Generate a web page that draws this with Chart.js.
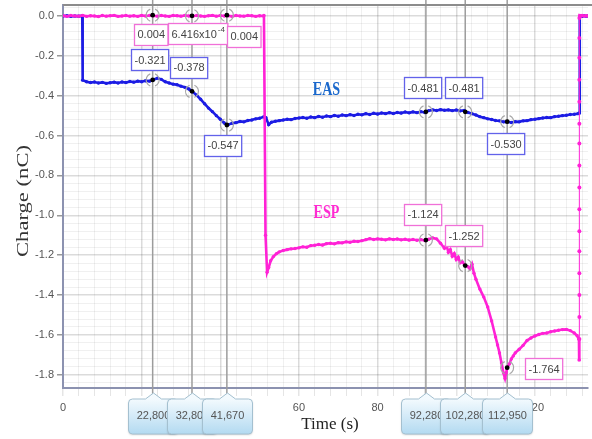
<!DOCTYPE html>
<html>
<head>
<meta charset="utf-8">
<title>Charge vs time</title>
<script src="https://cdn.jsdelivr.net/npm/chart.js@4.4.1/dist/chart.umd.min.js"></script>
<style>
  html, body { margin: 0; padding: 0; background: #fff; }
  canvas { display: block; }
</style>
</head>
<body>
<canvas id="chargeChart" width="592" height="439"></canvas>
<script>

// EAS trace (time in s, charge in nC)
var easTime = [
	0, 1, 2, 3, 4, 4.9, 5, 6, 7, 8,
	9, 10, 11, 12, 13, 14, 15, 16, 17, 18,
	19, 20, 21, 22, 22.8, 24, 25, 26, 27, 28,
	29, 30, 31, 32, 32.8, 34, 35, 36, 37, 38,
	39, 40, 41, 41.67, 42, 43, 44, 45, 46, 47,
	48, 49, 50, 51, 51.6, 52.3, 53, 54, 55, 56,
	57, 58, 59, 60, 61, 62, 63, 64, 65, 66,
	67, 68, 69, 70, 71, 72, 73, 74, 75, 76,
	77, 78, 79, 80, 81, 82, 83, 84, 85, 86,
	87, 88, 89, 90, 91, 92, 92.28, 93, 94, 95,
	96, 97, 98, 99, 100, 101, 102, 102.28, 103, 104,
	105, 106, 107, 108, 109, 110, 111, 112, 112.95, 114,
	115, 116, 117, 118, 119, 120, 121, 122, 123, 124,
	125, 126, 127, 128, 129, 130, 131, 131.3, 131.4, 131.7,
	132, 132.5, 133, 133.4
];
var easCharge = [
	0.000, 0.001, -0.002, 0.000, -0.001, 0.000, -0.322, -0.330, -0.334, -0.331,
	-0.336, -0.333, -0.338, -0.335, -0.332, -0.336, -0.331, -0.334, -0.329, -0.332,
	-0.327, -0.330, -0.325, -0.327, -0.321, -0.312, -0.318, -0.330, -0.336, -0.342,
	-0.345, -0.352, -0.358, -0.366, -0.378, -0.398, -0.418, -0.440, -0.462, -0.480,
	-0.500, -0.518, -0.537, -0.547, -0.545, -0.538, -0.535, -0.529, -0.531, -0.524,
	-0.522, -0.516, -0.513, -0.506, -0.510, -0.545, -0.533, -0.528, -0.525, -0.522,
	-0.518, -0.520, -0.514, -0.512, -0.509, -0.513, -0.507, -0.510, -0.504, -0.508,
	-0.502, -0.505, -0.499, -0.503, -0.497, -0.500, -0.495, -0.499, -0.493, -0.496,
	-0.490, -0.494, -0.488, -0.492, -0.487, -0.490, -0.485, -0.489, -0.484, -0.487,
	-0.482, -0.486, -0.481, -0.485, -0.480, -0.484, -0.481, -0.475, -0.471, -0.474,
	-0.470, -0.473, -0.471, -0.475, -0.472, -0.476, -0.474, -0.481, -0.484, -0.490,
	-0.497, -0.505, -0.510, -0.516, -0.519, -0.524, -0.526, -0.531, -0.530, -0.534,
	-0.530, -0.531, -0.526, -0.525, -0.520, -0.518, -0.515, -0.512, -0.509, -0.510,
	-0.505, -0.503, -0.500, -0.498, -0.494, -0.493, -0.490, -0.487, -0.004, 0.001,
	-0.002, 0.001, -0.001, 0.000
];

// ESP trace (time in s, charge in nC)
var espTime = [
	0, 1, 2, 3, 4, 5, 6, 7, 8, 9,
	10, 11, 12, 13, 14, 15, 16, 17, 18, 19,
	20, 21, 22, 22.8, 23, 24, 25, 26, 27, 28,
	29, 30, 31, 32, 32.8, 33, 34, 35, 36, 37,
	38, 39, 40, 41, 41.67, 42, 43, 44, 45, 46,
	47, 48, 49, 50, 51, 51.1, 51.5, 51.9, 52.3, 52.8,
	53.5, 54.3, 55, 56, 57, 58, 59, 60, 61, 62,
	63, 64, 65, 66, 67, 68, 69, 70, 71, 72,
	73, 74, 75, 76, 77, 78, 79, 80, 81, 82,
	83, 84, 85, 86, 87, 88, 89, 90, 91, 92,
	92.28, 93, 94, 95, 96, 97, 97.5, 98, 98.5, 99,
	99.5, 100, 100.5, 101, 101.5, 102.28, 103, 103.5, 104, 104.5,
	105, 106, 107, 108, 109, 110, 110.5, 111, 111.5, 112,
	112.4, 112.7, 112.95, 113.5, 114, 114.5, 115, 116, 117, 118,
	119, 120, 121, 122, 123, 124, 125, 126, 127, 128,
	129, 130, 130.7, 131.2, 131.25, 131.3, 131.3, 131.3, 131.3, 131.3,
	131.3, 131.3, 131.3, 131.3, 131.3, 131.3, 131.3, 131.3, 131.3, 131.3,
	131.3, 131.4, 131.7, 132, 132.5, 133, 133.4
];
var espCharge = [
	0.001, -0.002, 0.002, 0.000, -0.001, 0.003, -0.002, 0.001, 0.000, -0.003,
	0.002, -0.001, 0.001, 0.003, -0.002, 0.000, 0.002, -0.001, 0.001, -0.002,
	0.003, 0.000, 0.002, 0.004, 0.001, -0.001, 0.002, 0.000, -0.002, 0.002,
	0.001, -0.001, 0.003, 0.000, 0.001, -0.001, 0.002, 0.000, -0.002, 0.001,
	0.003, -0.001, 0.002, 0.000, 0.004, 0.001, -0.002, 0.002, 0.000, -0.001,
	0.002, 0.001, -0.002, 0.001, 0.000, 0.002, -1.100, -1.285, -1.262, -1.228,
	-1.207, -1.192, -1.183, -1.176, -1.172, -1.168, -1.166, -1.163, -1.158, -1.160,
	-1.152, -1.150, -1.146, -1.149, -1.142, -1.140, -1.143, -1.137, -1.138, -1.133,
	-1.135, -1.130, -1.131, -1.127, -1.122, -1.117, -1.121, -1.118, -1.120, -1.123,
	-1.118, -1.121, -1.119, -1.123, -1.120, -1.124, -1.121, -1.125, -1.122, -1.126,
	-1.124, -1.120, -1.113, -1.118, -1.140, -1.165, -1.150, -1.185, -1.172, -1.205,
	-1.192, -1.222, -1.210, -1.238, -1.232, -1.252, -1.258, -1.268, -1.245, -1.290,
	-1.320, -1.370, -1.410, -1.460, -1.530, -1.610, -1.650, -1.690, -1.740, -1.790,
	-1.818, -1.790, -1.764, -1.745, -1.720, -1.705, -1.690, -1.672, -1.652, -1.628,
	-1.615, -1.605, -1.598, -1.592, -1.590, -1.584, -1.580, -1.576, -1.573, -1.572,
	-1.578, -1.590, -1.603, -1.622, -1.725, -1.620, -1.510, -1.400, -1.290, -1.180,
	-1.080, -0.970, -0.860, -0.750, -0.640, -0.540, -0.430, -0.320, -0.210, -0.110,
	-0.010, 0.002, -0.001, 0.002, 0.000, 0.001, 0.000
];

// cursor readouts
var cursorTime = [22.8, 32.8, 41.67, 92.28, 102.28, 112.95];
var cursorEas = [-0.321, -0.378, -0.547, -0.481, -0.481, -0.530];
var cursorEsp = [0.004, 6.416e-4, 0.004, -1.124, -1.252, -1.764];

var easColor = '#1c1ce4';
var espColor = '#ff22d6';

// where each readout box sits, in px from its point
var easBoxShift = [[-3, -20], [-3, -24], [-4, 20], [-3, -24], [-2, -24], [-2, 22]];
var espBoxShift = [[-2, 19], [6, 18], [17, 21], [-3, -26], [-2, -30], [36, 1]];

var seriesNames = [
	{ text: 'EAS', t: 67, v: -0.37, color: '#1a68cc' },
	{ text: 'ESP', t: 67, v: -0.99, color: '#ff2bd2' }
];

function toPoints(xs, ys){
	return xs.map(function(t, i){ return { x: t, y: ys[i] }; });
}

function isStep(v, step){
	var k = v / step;
	return Math.abs(k - Math.round(k)) < 1e-6;
}

var labelFont = '11px "Liberation Sans", Arial, sans-serif';

function readoutText(v){
	if (v !== 0 && Math.abs(v) < 0.001) {
		var e = Math.floor(Math.log10(Math.abs(v)));
		return { main: (v / Math.pow(10, e)).toFixed(3) + 'x10', sup: String(e) };
	}
	return { main: v.toFixed(3), sup: '' };
}

function drawReadout(ctx, cx, cy, v, border){
	var txt = readoutText(v);
	ctx.font = labelFont;
	var w = ctx.measureText(txt.main).width;
	var sw = 0;
	if (txt.sup) {
		ctx.font = '8px "Liberation Sans", Arial, sans-serif';
		sw = ctx.measureText(txt.sup).width + 1;
	}
	var bw = w + sw + 6, bh = 21;
	var x0 = Math.round(cx - bw / 2) + 0.5, y0 = Math.round(cy - bh / 2) + 0.5;
	ctx.fillStyle = '#fff';
	ctx.fillRect(x0, y0, bw, bh);
	ctx.strokeStyle = border;
	ctx.lineWidth = 1.3;
	ctx.strokeRect(x0, y0, bw, bh);
	ctx.fillStyle = '#444';
	ctx.textBaseline = 'middle';
	ctx.textAlign = 'left';
	ctx.font = labelFont;
	ctx.fillText(txt.main, x0 + 3, cy + 1);
	if (txt.sup) {
		ctx.font = '8px "Liberation Sans", Arial, sans-serif';
		ctx.fillText(txt.sup, x0 + 3 + w + 1, cy - 4);
	}
}

function drawMarker(ctx, px, py){
	ctx.strokeStyle = '#a8a8a8';
	ctx.lineWidth = 1.2;
	ctx.beginPath();
	ctx.arc(px, py, 6.5, 0.62 * Math.PI, 1.38 * Math.PI);
	ctx.stroke();
	ctx.beginPath();
	ctx.arc(px, py, 6.5, -0.38 * Math.PI, 0.38 * Math.PI);
	ctx.stroke();
	ctx.fillStyle = '#000';
	ctx.beginPath();
	ctx.arc(px, py, 2.4, 0, 2 * Math.PI);
	ctx.fill();
}

function drawTag(ctx, cx, bottom, t){
	var top = bottom + 11, h = 35, w = 50, r = 4;
	var left = cx - 25, right = left + w;
	var grad = ctx.createLinearGradient(0, top, 0, top + h);
	grad.addColorStop(0, '#f3fafe');
	grad.addColorStop(1, '#b3daf1');
	ctx.beginPath();
	ctx.moveTo(left + r, top);
	ctx.lineTo(cx - 8, top);
	ctx.lineTo(cx, bottom + 5);
	ctx.lineTo(cx + 8, top);
	ctx.lineTo(right - r, top);
	ctx.quadraticCurveTo(right, top, right, top + r);
	ctx.lineTo(right, top + h - r);
	ctx.quadraticCurveTo(right, top + h, right - r, top + h);
	ctx.lineTo(left + r, top + h);
	ctx.quadraticCurveTo(left, top + h, left, top + h - r);
	ctx.lineTo(left, top + r);
	ctx.quadraticCurveTo(left, top, left + r, top);
	ctx.closePath();
	ctx.shadowColor = 'rgba(0,0,0,0.18)';
	ctx.shadowBlur = 2;
	ctx.shadowOffsetY = 1;
	ctx.fillStyle = grad;
	ctx.fill();
	ctx.shadowColor = 'transparent';
	ctx.strokeStyle = '#a4c0d0';
	ctx.lineWidth = 1;
	ctx.stroke();
	ctx.fillStyle = '#555';
	ctx.font = labelFont;
	ctx.textAlign = 'center';
	ctx.textBaseline = 'middle';
	ctx.fillText(t.toFixed(3).replace('.', ','), cx, top + 17);
}

var cursorPlugin = {
	id: 'cursors',
	beforeDatasetsDraw: function(chart){
		var ctx = chart.ctx, xs = chart.scales.x, area = chart.chartArea;
		ctx.save();
		ctx.strokeStyle = '#9c9c9c';
		ctx.lineWidth = 1.5;
		cursorTime.forEach(function(t){
			var px = xs.getPixelForValue(t);
			ctx.beginPath();
			ctx.moveTo(px, 0);
			ctx.lineTo(px, area.bottom + 6);
			ctx.stroke();
		});
		ctx.restore();
	},
	afterDatasetsDraw: function(chart){
		var ctx = chart.ctx, xs = chart.scales.x, ys = chart.scales.y;
		ctx.save();
		cursorTime.forEach(function(t, i){
			var px = xs.getPixelForValue(t);
			drawMarker(ctx, px, ys.getPixelForValue(cursorEsp[i]));
			drawMarker(ctx, px, ys.getPixelForValue(cursorEas[i]));
		});
		cursorTime.forEach(function(t, i){
			var px = xs.getPixelForValue(t);
			var pe = ys.getPixelForValue(cursorEsp[i]);
			var pa = ys.getPixelForValue(cursorEas[i]);
			drawReadout(ctx, px + espBoxShift[i][0], pe + espBoxShift[i][1], cursorEsp[i], '#f070d8');
			drawReadout(ctx, px + easBoxShift[i][0], pa + easBoxShift[i][1], cursorEas[i], '#6262ea');
		});
		// series names
		seriesNames.forEach(function(s){
			ctx.save();
			ctx.translate(xs.getPixelForValue(s.t), ys.getPixelForValue(s.v));
			ctx.scale(0.74, 1);
			ctx.font = 'bold 19px "Liberation Serif", "Times New Roman", serif';
			ctx.fillStyle = s.color;
			ctx.textAlign = 'center';
			ctx.textBaseline = 'middle';
			ctx.fillText(s.text, 0, 0);
			ctx.restore();
		});
		ctx.restore();
	},
	afterDraw: function(chart){
		var ctx = chart.ctx, xs = chart.scales.x, area = chart.chartArea;
		ctx.save();
		// top frame line
		ctx.strokeStyle = '#8c8c8c';
		ctx.lineWidth = 2;
		ctx.beginPath();
		ctx.moveTo(area.left, area.top);
		ctx.lineTo(chart.width, area.top);
		ctx.stroke();
		cursorTime.forEach(function(t){
			drawTag(ctx, Math.round(xs.getPixelForValue(t)) + 0.5, area.bottom, t);
		});
		// axis titles
		ctx.fillStyle = '#222';
		ctx.textAlign = 'center';
		ctx.textBaseline = 'middle';
		ctx.font = '17px "Liberation Serif", "Times New Roman", serif';
		ctx.fillText('Time (s)', 330, 425);
		ctx.translate(24, 201);
		ctx.rotate(-Math.PI / 2);
		ctx.scale(1.33, 1);
		ctx.fillStyle = '#333';
		ctx.fillText('Charge (nC)', 0, 0);
		ctx.restore();
	}
};

var majorGrid = 'rgba(0,0,0,0.14)';
var minorGrid = 'rgba(0,0,0,0.06)';

var chart_settings = {
	type: 'line',
	data: {
		datasets: [{
			label: 'ESP',
			data: toPoints(espTime, espCharge),
			borderColor: espColor,
			backgroundColor: espColor,
			borderWidth: 2.6,
			pointRadius: function(c){ return c.raw && c.raw.x === 131.3 ? 2 : 1.7; },
			pointBorderWidth: 0,
			segment: {
				borderWidth: function(c){ return c.p0.parsed.x === c.p1.parsed.x ? 1 : undefined; }
			}
		}, {
			label: 'EAS',
			data: toPoints(easTime, easCharge),
			borderColor: easColor,
			backgroundColor: easColor,
			borderWidth: 2.6,
			pointRadius: 1.7,
			pointBorderWidth: 0
		}]
	},
	options: {
		responsive: false,
		animation: false,
		layout: { padding: { top: 5, right: 2, left: 0, bottom: 0 } },
		plugins: { legend: { display: false }, tooltip: { enabled: false } },
		scales: {
			x: {
				type: 'linear',
				bounds: 'ticks',
				min: 0,
				max: 133.5,
				afterFit: function(s){ s.height = 51; s.paddingLeft = 0; s.paddingRight = 0; },
				ticks: {
					stepSize: 4,
					includeBounds: false,
					autoSkip: false,
					maxRotation: 0,
					padding: 5,
					color: '#555',
					font: { family: '"Liberation Sans", Arial, sans-serif', size: 11 },
					callback: function(v){ return isStep(v, 20) ? String(Math.round(v)) : ''; }
				},
				grid: {
					color: function(c){ return c.tick && isStep(c.tick.value, 20) ? majorGrid : minorGrid; },
					lineWidth: function(c){ return c.tick && isStep(c.tick.value, 20) ? 1.5 : 1; },
					tickLength: 8,
					tickColor: 'rgba(0,0,0,0.1)'
				},
				border: { color: '#8c92b0', width: 2 }
			},
			y: {
				type: 'linear',
				bounds: 'ticks',
				min: -1.866,
				max: 0.055,
				afterFit: function(s){ s.width = 63; s.paddingTop = 0; s.paddingBottom = 0; },
				ticks: {
					stepSize: 0.04,
					includeBounds: false,
					autoSkip: false,
					padding: 3,
					color: '#555',
					font: { family: '"Liberation Sans", Arial, sans-serif', size: 11 },
					callback: function(v){ return isStep(v, 0.2) ? v.toFixed(1) : ''; }
				},
				grid: {
					color: function(c){ return c.tick && isStep(c.tick.value, 0.2) ? majorGrid : minorGrid; },
					lineWidth: function(c){ return c.tick && isStep(c.tick.value, 0.2) ? 1.5 : 1; },
					tickLength: 6,
					tickColor: function(c){ return c.tick && isStep(c.tick.value, 0.2) ? '#999' : 'rgba(0,0,0,0)'; }
				},
				border: { color: '#8c92b0', width: 2 }
			}
		}
	},
	plugins: [cursorPlugin]
};

var chart_charge = new Chart(document.getElementById('chargeChart'), chart_settings);

</script>
</body>
</html>
